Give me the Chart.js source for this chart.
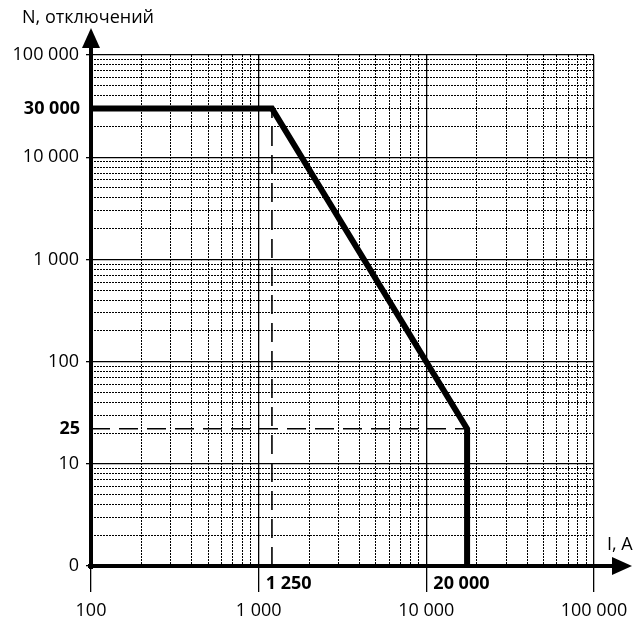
<!DOCTYPE html>
<html>
<head>
<meta charset="utf-8">
<script src="https://cdn.jsdelivr.net/npm/chart.js@4.4.0/dist/chart.umd.min.js"></script>
<style>
  html, body { margin: 0; padding: 0; background: #fff; }
  #wrap { width: 638px; height: 628px; }
</style>
</head>
<body>
<div id="wrap"><canvas id="chart"></canvas></div>
<script>
// Curve (I in A, N trips)
const currentA = [100, 1200, 17500, 17500];
const tripsN = [30000, 30000, 22, 1];

// Dashed guide lines
const guideHX = [100, 17500];
const guideHY = [22, 22];
const guideVX = [1200, 1200];
const guideVY = [1, 30000];

// Axis labels
const xMajor = [100, 1000, 10000, 100000];
const xMajorLabels = ['100', '1 000', '10 000', '100 000'];
const yMajor = [1, 10, 100, 1000, 10000, 100000];
const yMajorLabels = ['0', '10', '100', '1 000', '10 000', '100 000'];

// Bold marks next to the axes
const xMarkAt = [1000, 10000];
const xMarkLabels = ['1 250', '20 000'];
const yMarkAt = [30000, 22];
const yMarkLabels = ['30 000', '25'];

// grid steps 1..9 in every decade
function decadeSteps(lo, hi) {
    const out = [];
    for (let d = lo; d < hi; d *= 10) {
        for (let k = 1; k < 10; k++) out.push(k * d);
    }
    out.push(hi);
    return out;
}

const FONT = '"Open Sans", "DejaVu Sans", sans-serif';

function toPoints(xs, ys) {
    return xs.map((v, i) => ({ x: v, y: ys[i] }));
}

function gridFor(majors, tickLen) {
    return {
        color: '#000',
        lineWidth: ctx => majors.includes(ctx.tick && ctx.tick.value) ? 1.3 : 1,
        tickColor: ctx => majors.includes(ctx.tick && ctx.tick.value) ? '#000' : 'rgba(0,0,0,0)',
        tickLength: tickLen,
        drawTicks: true
    };
}

const overlay = {
    id: 'overlay',
    afterDatasetsDraw(chart) {
        const { ctx, chartArea: a, scales: { x, y } } = chart;
        ctx.save();
        ctx.strokeStyle = '#000';
        ctx.fillStyle = '#000';
        ctx.lineWidth = 4;
        // axes
        ctx.beginPath();
        ctx.moveTo(a.left, a.bottom + 3);
        ctx.lineTo(a.left, a.top - 10);
        ctx.stroke();
        ctx.beginPath();
        ctx.moveTo(a.left - 3, a.bottom);
        ctx.lineTo(a.right + 20, a.bottom);
        ctx.stroke();
        // arrows
        ctx.beginPath();
        ctx.moveTo(a.left, a.top - 27);
        ctx.lineTo(a.left - 9, a.top - 7);
        ctx.lineTo(a.left + 9, a.top - 7);
        ctx.closePath();
        ctx.fill();
        ctx.beginPath();
        ctx.moveTo(a.right + 38, a.bottom);
        ctx.lineTo(a.right + 18, a.bottom - 9);
        ctx.lineTo(a.right + 18, a.bottom + 9);
        ctx.closePath();
        ctx.fill();
        // axis titles
        ctx.font = '18px ' + FONT;
        ctx.textAlign = 'left';
        ctx.textBaseline = 'alphabetic';
        ctx.fillText('N, отключений', 22, 23);
        ctx.fillText('I, A', 607, 550);
        // bold marks
        ctx.font = 'bold 18px ' + FONT;
        ctx.textAlign = 'left';
        xMarkAt.forEach((v, i) => {
            ctx.fillText(xMarkLabels[i], x.getPixelForValue(v) + 7, 589);
        });
        ctx.textAlign = 'right';
        ctx.textBaseline = 'middle';
        yMarkAt.forEach((v, i) => {
            ctx.fillText(yMarkLabels[i], 80, y.getPixelForValue(v));
        });
        ctx.restore();
    }
};

const ctx = document.getElementById('chart').getContext('2d');
new Chart(ctx, {
    type: 'line',
    data: {
        datasets: [{
            data: toPoints(currentA, tripsN),
            borderColor: '#000',
            borderWidth: 6,
            borderJoinStyle: 'miter',
            pointRadius: 0,
            tension: 0
        }, {
            data: toPoints(guideHX, guideHY),
            borderColor: '#000',
            borderWidth: 1.6,
            borderDash: [19, 9],
            pointRadius: 0
        }, {
            data: toPoints(guideVX, guideVY),
            borderColor: '#000',
            borderWidth: 1.6,
            borderDash: [19, 9],
            pointRadius: 0
        }]
    },
    options: {
        responsive: true,
        maintainAspectRatio: false,
        animation: false,
        layout: { padding: { top: 55, right: 44, left: 0, bottom: 0 } },
        plugins: { legend: { display: false }, tooltip: { enabled: false } },
        scales: {
            x: {
                type: 'logarithmic',
                min: 100,
                max: 100000,
                afterBuildTicks: s => { s.ticks = decadeSteps(100, 100000).map(v => ({ value: v })); },
                afterFit: s => { s.height = 62; },
                grid: gridFor(xMajor, 26),
                border: { display: false, dash: ctx => xMajor.includes(ctx.tick && ctx.tick.value) ? [] : [2, 1] },
                ticks: {
                    autoSkip: false,
                    maxRotation: 0,
                    minRotation: 0,
                    padding: 8,
                    color: '#000',
                    font: { family: FONT, size: 18 },
                    callback: v => {
                        const i = xMajor.indexOf(v);
                        return i >= 0 ? xMajorLabels[i] : '';
                    }
                }
            },
            y: {
                type: 'logarithmic',
                min: 1,
                max: 100000,
                afterBuildTicks: s => { s.ticks = decadeSteps(1, 100000).map(v => ({ value: v })); },
                afterFit: s => { s.width = 91; },
                grid: gridFor(yMajor, 5),
                border: { display: false, dash: ctx => yMajor.includes(ctx.tick && ctx.tick.value) ? [] : [2, 1] },
                ticks: {
                    autoSkip: false,
                    padding: 7,
                    color: '#000',
                    font: { family: FONT, size: 18 },
                    callback: v => {
                        const i = yMajor.indexOf(v);
                        return i >= 0 ? yMajorLabels[i] : '';
                    }
                }
            }
        }
    },
    plugins: [overlay]
});
</script>
</body>
</html>
